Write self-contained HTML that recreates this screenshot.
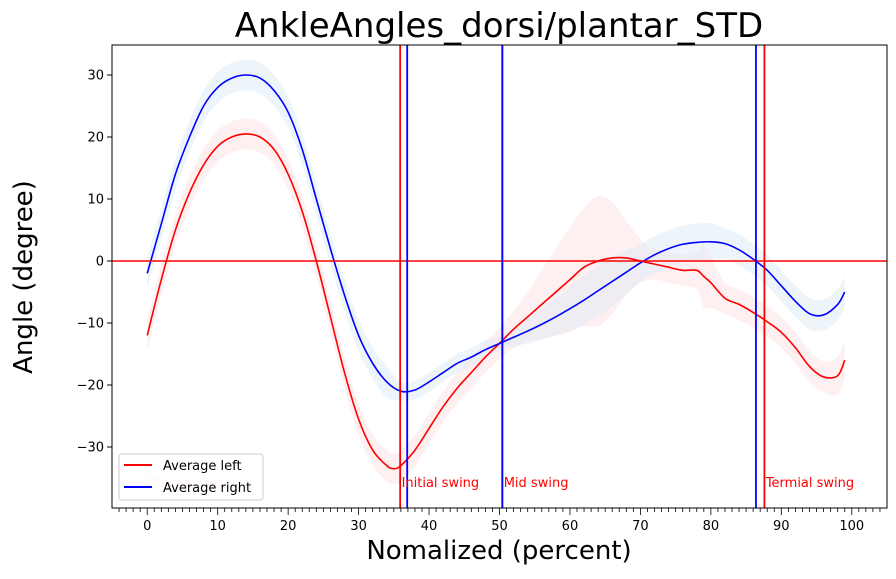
<!DOCTYPE html>
<html><head><meta charset="utf-8"><style>body{margin:0;background:#fff}svg{font-family:"DejaVu Sans","Liberation Sans",sans-serif}</style></head>
<body>
<svg id="c" width="896" height="574"></svg>
<script>
const xLeft=[0,2,4,6,8,10,12,14,16,18,20,22,24,26,28,30,32,34,35,36,38,40,42,44,46,48,50,52,54,56,58,60,62,64,66,68,70,72,74,76,78,79,80,82,84,86,88,90,92,94,96,98,99];
const leftAvg=[-12,-3,5,11,15.5,18.5,20,20.5,20,18,14,8,0,-9,-18,-25.5,-30.5,-33,-33.5,-33,-30.5,-27,-23.5,-20.5,-18,-15.5,-13.3,-11,-9,-7,-5,-3,-1,0,0.5,0.5,0,-0.5,-1,-1.5,-1.5,-2.5,-3.5,-6,-7,-8.3,-9.8,-11.5,-14,-17,-18.7,-18.5,-16];
const leftStd=[2.5,2.5,2.5,2.5,2.5,2.5,2.5,2.5,2.5,2.5,2.5,2.5,2.5,2.5,2.5,2.5,2.5,2.5,2.5,2.5,2.5,2.5,2.5,2.5,2.5,2.5,2.5,3,4,5.5,7,8.5,9.5,10.5,9,6,3.5,2.5,2.5,2.5,3,5,4,2.5,2.5,2.5,2.5,2.5,2.5,2.5,2.5,3,3];
const xRight=[0,2,4,6,8,10,12,14,16,18,20,22,24,26,28,30,32,34,36,38,40,42,44,46,48,50,52,54,56,58,60,62,64,66,68,70,72,74,76,78,80,82,84,86,88,90,92,94,96,98,99];
const rightAvg=[-2,6,14,20,25,28,29.5,30,29.5,27.5,24,18,10,2,-5.5,-12,-16.5,-19.5,-21,-20.8,-19.5,-18,-16.5,-15.5,-14.3,-13.3,-12.3,-11.3,-10.2,-9,-7.7,-6.3,-4.8,-3.3,-1.8,-0.3,1,2,2.7,3,3.1,2.8,1.8,0.3,-1.5,-4,-6.5,-8.5,-8.7,-7,-5];
const rightStd=[2.5,2.5,2.5,2.5,2.5,2.5,2.5,2.5,2.5,2.5,2.5,2.5,2.5,2.5,2.5,2.5,2.5,2.5,1.5,1.5,1.5,1.5,1.5,1.5,1.5,1,1.5,2,2.5,3,3.5,4,4,4,3.5,3,3,3,3,3,3,2.5,2.5,2.5,2.5,2.5,2.5,2.5,2.5,2.5,2.5];
const leftEvents=[35.9,50.4,87.6];
const rightEvents=[36.9,50.4,86.4];
const phaseLabels=["Stance phase","Initial swing","Mid swing","Termial swing"];
const phaseX=[0,36.1,50.6,87.8];
const xTicks=[0,10,20,30,40,50,60,70,80,90,100];
const yTicks=[30,20,10,0,-10,-20,-30];

const L=112,R=887,T=45,B=508;
const X=v=>L+(v+5)/110*(R-L);
const Y=v=>261-v*6.2;
const s=document.getElementById('c');const NS='http://www.w3.org/2000/svg';
function add(tag,attrs,name,text){const e=document.createElementNS(NS,tag);for(const k in attrs)e.setAttribute(k,attrs[k]);


if(text!==undefined)e.textContent=text;s.appendChild(e);return e;}
function smooth(pts){let d='';for(let i=0;i<pts.length-1;i++){const p0=pts[Math.max(i-1,0)],p1=pts[i],p2=pts[i+1],p3=pts[Math.min(i+2,pts.length-1)];
const c1=[p1[0]+(p2[0]-p0[0])/6,p1[1]+(p2[1]-p0[1])/6],c2=[p2[0]-(p3[0]-p1[0])/6,p2[1]-(p3[1]-p1[1])/6];
d+=' C'+c1+' '+c2+' '+p2;}return d;}
function band(xs,m,sd,fill,name){const up=xs.map((x,i)=>[X(x),Y(m[i]+sd[i])]);const lo=xs.map((x,i)=>[X(x),Y(m[i]-sd[i])]).reverse();
const d='M'+up[0]+smooth(up)+' L'+lo[0]+smooth(lo)+'Z';add('path',{d:d,fill:fill,'fill-opacity':0.5},name);}
function line(xs,m,c,name){const p=xs.map((x,i)=>[X(x),Y(m[i])]);add('path',{d:'M'+p[0]+smooth(p),fill:'none',stroke:c,'stroke-width':1.6},name);}
band(xLeft,leftAvg,leftStd,'#fde0e4','left-std-band');
band(xRight,rightAvg,rightStd,'#dcecf5','right-std-band');
line(xLeft,leftAvg,'#ff0000','left-average-line');
line(xRight,rightAvg,'#0000ff','right-average-line');
add('line',{x1:L,x2:R,y1:Y(0),y2:Y(0),stroke:'#ff0000','stroke-width':1.5},'zero-line');
leftEvents.forEach(v=>add('line',{x1:X(v),x2:X(v),y1:T,y2:B,stroke:'#ff0000','stroke-width':1.8},'left-event-line'));
rightEvents.forEach(v=>add('line',{x1:X(v),x2:X(v),y1:T,y2:B,stroke:'#0000ff','stroke-width':1.8},'right-event-line'));
phaseLabels.forEach((t,i)=>add('text',{x:X(phaseX[i]),y:487,'font-size':13,fill:'#ff0000',opacity:i==0?0.2:1},'phase-label',t));
add('rect',{x:L,y:T,width:R-L,height:B-T,fill:'none',stroke:'#000','stroke-width':1},'plot-frame');
for(let v=-4;v<=104;v++){add('line',{x1:X(v),x2:X(v),y1:B,y2:B+(v%10==0?7:4),stroke:'#000','stroke-width':0.8},'x-tick');}
xTicks.forEach(v=>add('text',{x:X(v),y:B+22,'font-size':13,'text-anchor':'middle'},'x-tick-label',String(v)));
yTicks.forEach(v=>{add('line',{x1:L-5,x2:L,y1:Y(v),y2:Y(v),stroke:'#000'},'y-tick');
add('text',{x:L-8,y:Y(v)+4.5,'font-size':13,'text-anchor':'end'},'y-tick-label',String(v).replace('-','\u2212'));});
add('text',{x:499,y:37,'font-size':34,'text-anchor':'middle'},'chart-title','AnkleAngles_dorsi/plantar_STD');
add('text',{x:499,y:559,'font-size':26,'text-anchor':'middle'},'x-axis-title','Nomalized (percent)');
add('text',{x:0,y:0,'font-size':26,'text-anchor':'middle',transform:'translate(32,277) rotate(-90)'},'y-axis-title','Angle (degree)');
add('rect',{x:119,y:454,width:144,height:46,rx:3,fill:'#fff','fill-opacity':0.8,stroke:'#ccc'},'legend-box');
add('line',{x1:124,x2:152,y1:465,y2:465,stroke:'#ff0000','stroke-width':2},'legend-left-swatch');
add('text',{x:163,y:470,'font-size':13},'legend-left-label','Average left');
add('line',{x1:124,x2:152,y1:487,y2:487,stroke:'#0000ff','stroke-width':2},'legend-right-swatch');
add('text',{x:163,y:492,'font-size':13},'legend-right-label','Average right');
</script>
</body></html>
